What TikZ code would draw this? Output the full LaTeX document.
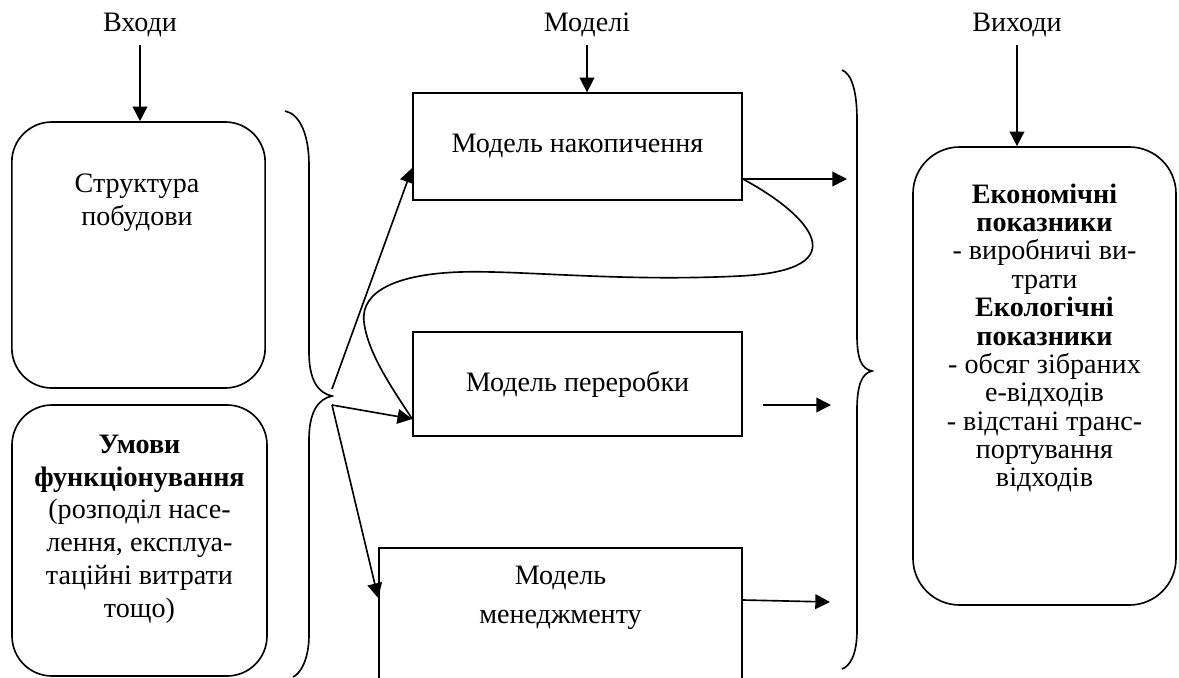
\documentclass[tikz,border=0pt]{standalone}
\usepackage{fontspec}
\setmainfont{Liberation Serif}
\usepackage{tikz}
\usetikzlibrary{arrows.meta,positioning,calc}
\tikzset{
    inbox/.style={
        rectangle, rounded corners=0.6cm, draw=black, line width=0.7pt,
        align=center, font=\fontsize{12}{14}\selectfont
    },
    modelbox/.style={
        rectangle, draw=black, line width=0.7pt,
        minimum width=4.935cm, minimum height=1.6cm,
        align=center, font=\fontsize{12}{14}\selectfont
    },
    outbox/.style={
        rectangle, rounded corners=0.7cm, draw=black, line width=0.7pt,
        minimum width=3.945cm, minimum height=6.87cm
    },
    caption/.style={font=\fontsize{12}{14}\selectfont},
    arrow/.style={->,>={Triangle[length=2.2mm,width=2.2mm]},line width=0.7pt},
    brace/.style={draw,line width=0.7pt}
}

\begin{document}
\begin{tikzpicture}[x=0.015cm,y=-0.015cm]

\useasboundingbox (0,0) rectangle (1179,677);
\clip (0,0) rectangle (1179,677);

% ---- Headings ----
\node[caption] (hin)  at (140, 25)  {Входи};
\node[caption] (hmod) at (587, 25)  {Моделі};
\node[caption] (hout) at (1017, 25) {Виходи};

% ---- Inputs ----
\node[inbox, minimum width=3.8cm, minimum height=3.99cm] (in1) at (138.5, 255) {};
\node[caption, align=center] (in1txt) at (137, 203) {Структура\\побудови};
\node[inbox, minimum width=3.825cm, minimum height=4.065cm] (in2) at (139.5, 540.5) {};
\node[caption, align=center] (in2txt) at (139.5, 529)
    {\textbf{Умови}\\\textbf{функціонування}\\(розподіл насе-\\лення, експлуа-\\таційні витрати\\тощо)};

% ---- Models ----
\node[modelbox] (m1) at (577.5, 146.5) {Модель накопичення};
\node[modelbox, minimum height=1.56cm] (m2) at (577.5, 384) {Модель переробки};
\node[modelbox, minimum width=5.445cm, minimum height=2.58cm] (m3) at (560.5, 634) {};
\node[caption, align=center, font=\fontsize{12}{16.5}\selectfont] (m3txt) at (560.5, 598) {Модель\\менеджменту};

% ---- Outputs ----
\node[outbox] (out) at (1044.5, 376) {};
\node[caption, align=center, font=\fontsize{12}{12.1}\selectfont] (outtxt) at (1044.5, 338)
    {\textbf{Економічні}\\\textbf{показники}\\- виробничі ви-\\трати\\\textbf{Екологічні}\\\textbf{показники}\\- обсяг зібраних\\е-відходів\\- відстані транс-\\портування\\відходів};

% Heading arrows
\draw[arrow] (hin.south) -- (hin.south |- in1.north);
\draw[arrow] (hmod.south) -- (hmod.south |- m1.north);
\draw[arrow] (hout.south) -- (hout.south |- out.north);

% Left brace
\path[brace] (285,111) .. controls (300,114) and (309,135) .. (309,165) -- (309,352)
    .. controls (309,380) and (318,393) .. (332,396)
    .. controls (318,399) and (309,412) .. (309,440) -- (309,635)
    .. controls (309,660) and (300,674) .. (293,677);

% Right brace
\path[brace] (842,70) .. controls (852,74) and (857,92) .. (857,120) -- (857,335)
    .. controls (857,360) and (862,369) .. (872,371)
    .. controls (862,373) and (857,385) .. (857,410) -- (857,630)
    .. controls (857,655) and (850,666) .. (842,669);

% Brace -> models
\coordinate (lb1) at (332, 389);
\coordinate (lb2) at (332, 405);
\draw[arrow] (lb1) -- (m1.west |- 0,168);
\draw[arrow] (lb2) -- (m2.west |- 0,419);
\draw[arrow] (lb2) -- (m3.west |- 0,598);

% Models -> right brace
\coordinate (r1) at (847, 179);
\coordinate (r2a) at (763, 405);
\coordinate (r2b) at (831, 405);
\coordinate (r3) at (830, 602);
\draw[arrow] (m1.east |- r1) -- (r1);
\draw[arrow] (r2a) -- (r2b);
\draw[arrow] (m3.east |- 0,600) -- (r3);

% loop from accumulation back to processing
\draw[line width=0.7pt] (m1.east |- r1) .. controls (810,215) and (860,270) .. (740,276)
    .. controls (620,282) and (520,270) .. (460,272)
    .. controls (400,274) and (360,290) .. (364,322)
    .. controls (368,355) and (395,392) .. (m2.west |- 0,419);

\end{tikzpicture}
\end{document}
